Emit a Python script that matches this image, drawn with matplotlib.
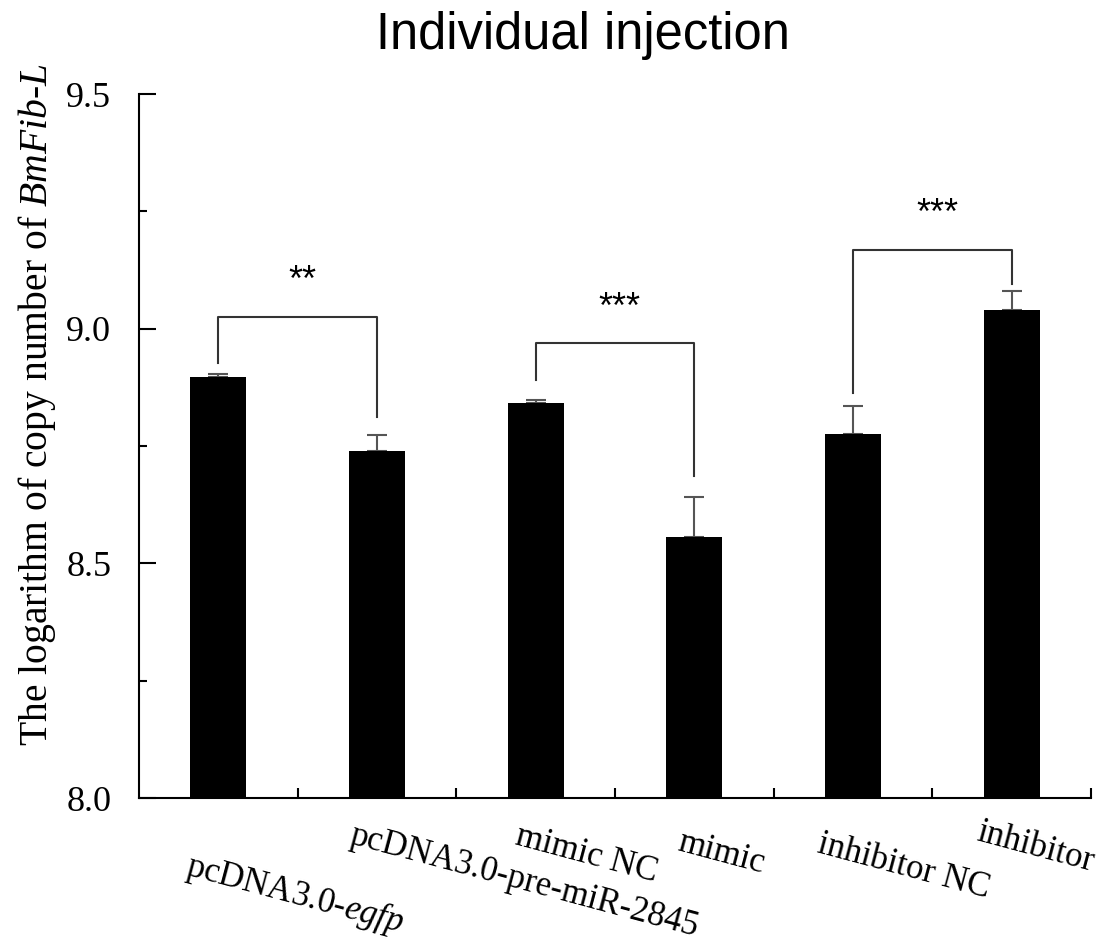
import numpy as np
import matplotlib
matplotlib.use("Agg")
import matplotlib.pyplot as plt

# Data
groups = ["pcDNA3.0-$\\mathit{egfp}$", "pcDNA3.0-pre-miR-2845", "mimic NC",
          "mimic", "inhibitor NC", "inhibitor"]
values = [8.897, 8.739, 8.841, 8.556, 8.775, 9.040]
errors = [0.007, 0.035, 0.008, 0.086, 0.061, 0.041]

# significance brackets
pairs = [(0, 1), (2, 3), (4, 5)]
bracket_top = [9.025, 8.969, 9.168]
bracket_left_end = [8.927, 8.891, 8.863]
bracket_right_end = [8.812, 8.686, 9.095]
stars = ["**", "***", "***"]

plt.rcParams['font.family'] = ['Liberation Serif', 'DejaVu Serif']
plt.rcParams['mathtext.fontset'] = 'custom'
plt.rcParams['mathtext.rm'] = 'Liberation Serif'
plt.rcParams['mathtext.it'] = 'Liberation Serif:italic'

fig = plt.figure(figsize=(11.15, 9.49), dpi=100)
ax = fig.add_axes([0.1247, 0.1591, 0.8538, 0.7418])

x = np.arange(len(groups))
ax.bar(x, values, width=0.353, color='black', zorder=2)
ax.errorbar(x, values, yerr=[np.zeros(len(errors)), errors], fmt='none',
            ecolor='#555555', elinewidth=1.5, capsize=7, capthick=1.5, zorder=1)

for (a, b), top, le, re, s in zip(pairs, bracket_top, bracket_left_end,
                                  bracket_right_end, stars):
    ax.plot([a, a, b, b], [le, top, top, re], color='#333333', lw=1.5)
    ax.text((a + b) / 2 + 0.03, top + 0.075, s, ha='center', va='center',
            fontsize=26, family='Liberation Sans')

ax.set_xlim(-0.5, 5.5)
ax.set_ylim(8.0, 9.5)
ax.set_yticks([8.0, 8.5, 9.0, 9.5])
ax.set_yticklabels(["8.0", "8.5", "9.0", "9.5"])
ax.set_yticks([8.25, 8.75, 9.25], minor=True)
ax.set_xticks(np.arange(0.5, 6.0, 1.0))
ax.set_xticklabels([])
ax.tick_params(axis='y', which='major', direction='in', length=12, width=1.5,
               labelsize=26, pad=20)
ax.tick_params(axis='y', which='minor', direction='in', length=6, width=1.5)
ax.tick_params(axis='x', which='major', direction='in', length=7, width=1.5)
for side in ['top', 'right']:
    ax.spines[side].set_visible(False)
for side in ['left', 'bottom']:
    ax.spines[side].set_linewidth(1.5)

# slanted category labels
label_x = [-0.17, 0.86, 1.907, 2.929, 3.805, 4.813]
label_y = [7.894, 7.955, 7.953, 7.940, 7.936, 7.962]
for lx, ly, g in zip(label_x, label_y, groups):
    ax.text(lx, ly, g, rotation=-15, rotation_mode='anchor', ha='left', va='top',
            fontsize=25, clip_on=False)

fig.text(37 / 1115, 1 - 405 / 949,
         "The logarithm of copy number of $\\mathit{BmFib}$-$\\mathit{L}$",
         rotation=90, ha='center', va='center', fontsize=28.5)
fig.text(583 / 1115, 1 - 49 / 949, "Individual injection", ha='center',
         va='baseline', fontsize=36.5, family='Liberation Sans')

fig.savefig("out.png", dpi=100)
